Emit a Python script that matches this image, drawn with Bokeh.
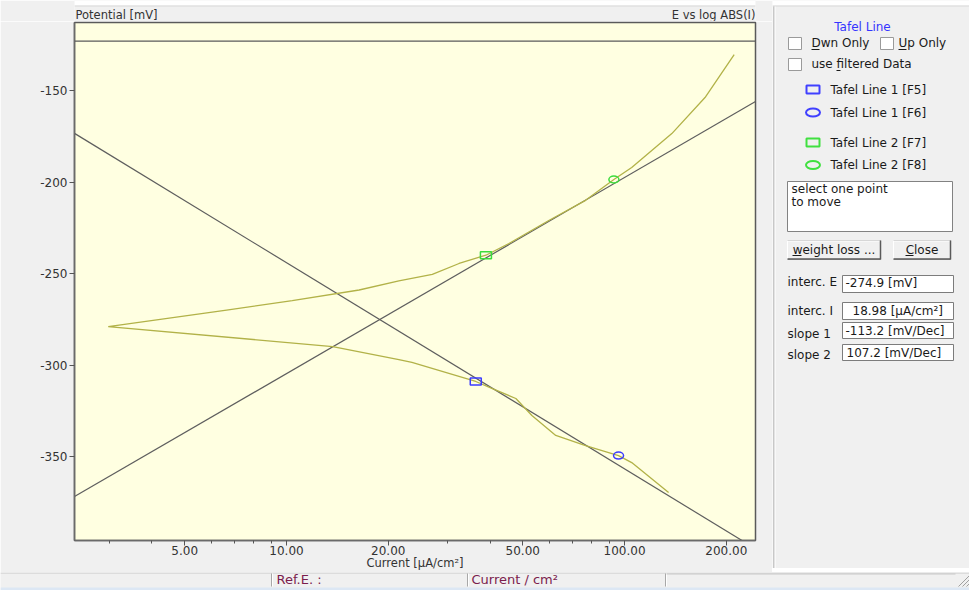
from bokeh.plotting import figure
from bokeh.models import Range1d, FixedTicker, PrintfTickFormatter, Span
from bokeh.layouts import column, row
from bokeh.embed import file_html
from bokeh.resources import INLINE
from bokeh.core.properties import value

FONT = "DejaVu Sans"
BG = "#f0f0f0"

# ---------------- data ----------------
curve_current = [211, 173, 138, 105, 93, 76.7, 59.7, 45.5, 38.9, 32.4, 27.0, 21.5, 16.4, 10.4, 6.65, 2.97,
                 13.7, 21.5, 23.5, 36.3, 40.5, 47.7, 53.2, 62.6, 76.7, 96.0, 105, 135]
curve_potential = [-130.3, -153.8, -173.5, -192.0, -198.6, -210.0, -221.0, -233.6, -240.0, -244.5, -250.5,
                   -254.0, -259.0, -264.8, -270.0, -279.0,
                   -289.9, -297.0, -298.6, -309.0, -312.8, -318.3, -327.6, -338.5, -344.0, -349.5, -353.3, -369.7]
tafel1_current = [2.36, 244]
tafel1_potential = [-173.4, -400.4]
tafel2_current = [2.36, 244]
tafel2_potential = [-371.9, -156.0]
limit_potential = -123.0
line1_sel_current = [36.3, 96.0]
line1_sel_potential = [-309.0, -349.5]
line2_sel_current = [38.9, 93.0]
line2_sel_potential = [-240.0, -198.6]
x_major_ticks = [5, 10, 20, 50, 100, 200]
x_minor_ticks = [3, 4, 6, 7, 8, 9, 30, 40, 60, 70, 80, 90]
y_ticks = [-350, -300, -250, -200, -150]
marker_labels = ["Tafel Line 1 [F5]", "Tafel Line 1 [F6]", "Tafel Line 2 [F7]", "Tafel Line 2 [F8]"]
result_labels = ["interc. E", "interc. I", "slope 1", "slope 2"]
result_values = ["-274.9 [mV]", "18.98 [µA/cm²]", "-113.2 [mV/Dec]", "107.2 [mV/Dec]"]


def pixel_fig(w, h, x0=0, x1=None, bl=0, br=0):
    if x1 is None:
        x1 = w
    f = figure(width=w, height=h, x_range=Range1d(x0, x1), y_range=Range1d(h, 0),
               x_axis_location=None, y_axis_location=None, output_backend="svg", toolbar_location=None,
               min_border=0, min_border_left=bl, min_border_right=br,
               background_fill_color=BG, border_fill_color=BG, outline_line_color=None)
    f.grid.visible = False
    return f


txt = dict(text_font=value(FONT), text_font_size="12px", text_baseline="middle", text_color="#1a1a1a")

# ---------------- top strip above the chart (frame aligned with chart frame) ----------------
t = pixel_fig(772, 21, x0=74, x1=755, bl=74, br=17)
t.quad(left=[74], right=[755], top=[0], bottom=[5], fill_color="#ffffff", line_color=None)
t.segment(x0=[74], y0=[5.5], x1=[755], y1=[5.5], line_color="#d8d8d8", line_width=1)
t.text(x=[75], y=[21.5], text=["Potential [mV]"], text_align="left",
       text_font=value(FONT), text_font_size="11.5px", text_baseline="bottom", text_color="#333333")
t.text(x=[755], y=[21.5], text=["E vs log ABS(I)"], text_align="right",
       text_font=value(FONT), text_font_size="11.5px", text_baseline="bottom", text_color="#333333")

# ---------------- chart ----------------
p = figure(frame_width=681, frame_height=518, x_axis_type="log",
           x_range=Range1d(2.36, 244), y_range=Range1d(-395.9, -112.8),
           output_backend="svg", toolbar_location=None,
           min_border_left=74, min_border_right=17, min_border_top=1, min_border_bottom=28,
           background_fill_color="#ffffe1", border_fill_color=BG)
p.grid.visible = False
p.outline_line_color = "#5a5a5a"
p.outline_line_width = 1.5

xa = p.xaxis[0]
xa.ticker = FixedTicker(ticks=x_major_ticks, minor_ticks=x_minor_ticks)
xa.formatter = PrintfTickFormatter(format="%.2f")
xa.axis_label = "Current [µA/cm²]"
xa.axis_label_text_font = FONT
xa.axis_label_text_font_size = "11.5px"
xa.axis_label_text_font_style = "normal"
xa.axis_label_text_color = "#333333"
xa.axis_label_standoff = -2
ya = p.yaxis[0]
ya.ticker = FixedTicker(ticks=y_ticks)
ya.formatter = PrintfTickFormatter(format="%d")
for ax in (xa, ya):
    ax.major_tick_out = 5
    ax.major_tick_in = 0
    ax.minor_tick_out = 3
    ax.minor_tick_in = 0
    ax.axis_line_color = "#6a6a6a"
    ax.axis_line_width = 1.5
    ax.major_tick_line_color = "#555555"
    ax.minor_tick_line_color = "#555555"
    ax.major_label_text_font = FONT
    ax.major_label_text_font_size = "12px"
    ax.major_label_text_color = "#333333"
xa.major_label_standoff = 0
ya.major_label_standoff = 2

p.add_layout(Span(location=limit_potential, dimension="width", line_color="#5a5a5a", line_width=1.3))
p.line(tafel1_current, tafel1_potential, line_color="#5e5e5e", line_width=1.2)
p.line(tafel2_current, tafel2_potential, line_color="#5e5e5e", line_width=1.2)
p.line(curve_current, curve_potential, line_color="#b2b248", line_width=1.3)

p.rect(x=line1_sel_current[:1], y=line1_sel_potential[:1], width=11, height=7,
       width_units="screen", height_units="screen", fill_alpha=0, line_color="#3c3cff", line_width=1.5)
p.ellipse(x=line1_sel_current[1:], y=line1_sel_potential[1:], width=10, height=7,
          width_units="screen", height_units="screen", fill_alpha=0, line_color="#3c3cff", line_width=1.5)
p.rect(x=line2_sel_current[:1], y=line2_sel_potential[:1], width=11, height=7,
       width_units="screen", height_units="screen", fill_alpha=0, line_color="#3cdc3c", line_width=1.5)
p.ellipse(x=line2_sel_current[1:], y=line2_sel_potential[1:], width=10, height=7,
          width_units="screen", height_units="screen", fill_alpha=0, line_color="#3cdc3c", line_width=1.5)

# ---------------- right panel ----------------
PH = 568
q = pixel_fig(197, PH)


def X(v):
    return v - 772


def Y(v):
    return v


q.quad(left=[0], right=[197], top=[0], bottom=[5], fill_color="#ffffff", line_color=None)
q.segment(x0=[0], y0=[5.5], x1=[197], y1=[5.5], line_color="#d8d8d8", line_width=1)
q.segment(x0=[1.5, 2.5], y0=[6, 6], x1=[1.5, 2.5], y1=[PH, PH], line_color=["#a0a0a0", "#ffffff"], line_width=1)

q.text(x=[X(862)], y=[Y(26)], text=["Tafel Line"], text_align="center",
       text_font=value(FONT), text_font_size="12px", text_baseline="middle", text_color="#3535ff")

# checkboxes
q.quad(left=[X(788), X(880), X(788)], right=[X(801), X(893), X(801)],
       top=[Y(37), Y(37), Y(58)], bottom=[Y(49), Y(49), Y(70)],
       fill_color="#ffffff", line_color="#9a9a9a", line_width=1)
q.text(x=[X(811), X(898), X(811)], y=[Y(42.5), Y(42.5), Y(63.5)],
       text=["Dwn Only", "Up Only", "use filtered Data"], **txt)
q.segment(x0=[X(811), X(898), X(836)], y0=[Y(49), Y(49), Y(70)],
          x1=[X(819), X(906), X(840)], y1=[Y(49), Y(49), Y(70)], line_color="#1a1a1a", line_width=1)

# marker legend
mk_y = [89, 112, 142, 164.5]
q.rect(x=[X(812.5)], y=[Y(mk_y[0])], width=13, height=8, fill_alpha=0, line_color="#4040ff", line_width=2)
q.ellipse(x=[X(812.5)], y=[Y(mk_y[1])], width=14, height=8, fill_alpha=0, line_color="#4040ff", line_width=2)
q.rect(x=[X(812.5)], y=[Y(mk_y[2])], width=13, height=8, fill_alpha=0, line_color="#40e040", line_width=2)
q.ellipse(x=[X(812.5)], y=[Y(mk_y[3])], width=14, height=8, fill_alpha=0, line_color="#40e040", line_width=2)
q.text(x=[X(830)] * 4, y=[Y(v) for v in mk_y], text=marker_labels, **txt)

# message box
q.quad(left=[X(787)], right=[X(952)], top=[Y(181)], bottom=[Y(231)],
       fill_color="#ffffff", line_color="#828282", line_width=1)
q.text(x=[X(791), X(791)], y=[Y(188), Y(201)], text=["select one point", "to move"], **txt)

# buttons
btn_l = [X(787), X(893)]
btn_r = [X(880), X(950)]
q.quad(left=btn_l, right=btn_r, top=[Y(240)] * 2, bottom=[Y(259)] * 2,
       fill_color=BG, line_color="#b0b0b0", line_width=1)
q.segment(x0=btn_l, y0=[Y(240.5)] * 2, x1=btn_r, y1=[Y(240.5)] * 2, line_color="#ffffff")
q.segment(x0=btn_l, y0=[Y(240)] * 2, x1=btn_l, y1=[Y(259)] * 2, line_color="#ffffff")
q.segment(x0=btn_l, y0=[Y(258.5)] * 2, x1=btn_r, y1=[Y(258.5)] * 2, line_color="#5a5a5a", line_width=1.5)
q.segment(x0=btn_r, y0=[Y(240)] * 2, x1=btn_r, y1=[Y(259)] * 2, line_color="#5a5a5a", line_width=1.5)
q.text(x=[X(833.5), X(921.5)], y=[Y(249.5)] * 2, text=["weight loss ...", "Close"], text_align="center", **txt)
q.segment(x0=[X(792), X(905)], y0=[Y(255)] * 2, x1=[X(801), X(913)], y1=[Y(255)] * 2,
          line_color="#1a1a1a", line_width=1)

# results
box_top = [275, 302, 322, 344]
box_bot = [292, 319, 338, 360]
q.quad(left=[X(842)] * 4, right=[X(953)] * 4, top=[Y(v) for v in box_top], bottom=[Y(v) for v in box_bot],
       fill_color="#ffffff", line_color="#7c7c7c", line_width=1)
q.text(x=[X(787)] * 4, y=[Y(v) for v in [281.5, 310, 333, 354]], text=result_labels, **txt)
q.text(x=[X(845), X(852), X(845), X(846)], y=[Y(v) for v in [282.5, 310.5, 330, 352]], text=result_values, **txt)

# ---------------- status bar (starts near y=571) ----------------
SH = 19
s = pixel_fig(969, SH)
s.segment(x0=[0], y0=[0.5], x1=[969], y1=[0.5], line_color="#d6d6d6", line_width=1.5)
div_x = [271, 467, 665]
s.segment(x0=div_x, y0=[1] * 3, x1=div_x, y1=[14] * 3, line_color="#a8a8a8", line_width=1)
s.segment(x0=[v + 1 for v in div_x], y0=[1] * 3, x1=[v + 1 for v in div_x], y1=[14] * 3,
          line_color="#ffffff", line_width=1)
s.segment(x0=[666], y0=[1.5], x1=[955], y1=[1.5], line_color="#c8c8c8", line_width=1)
s.text(x=[276, 471], y=[7, 7], text=["Ref.E. :", "Current / cm²"],
       text_font=value(FONT), text_font_size="13px", text_baseline="middle", text_color="#7b1d4d")
s.quad(left=[0], right=[969], top=[15], bottom=[SH], fill_color="#dce7f4", line_color=None)
s.segment(x0=[958, 962, 966], y0=[14, 14, 14], x1=[969, 969, 969], y1=[3, 7, 11],
          line_color="#a0a0a0", line_width=1)

layout = column(row(column(t, p), q), s)
open("out.html", "w").write(file_html(layout, INLINE))
